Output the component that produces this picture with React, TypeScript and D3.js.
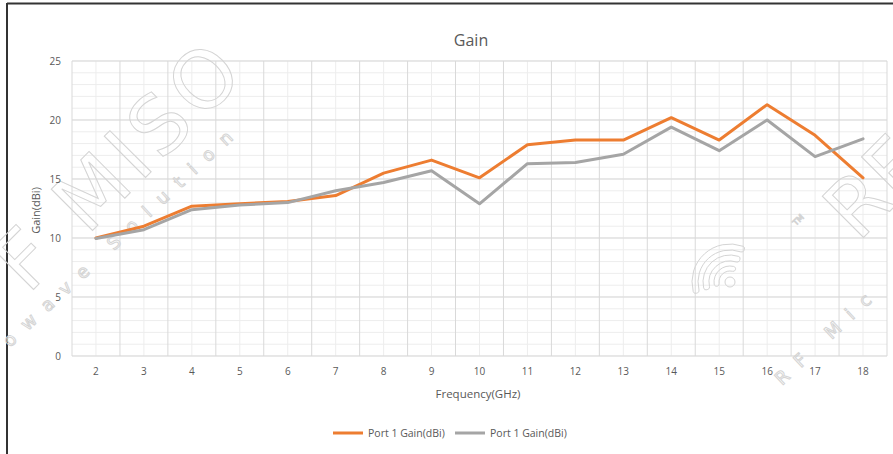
import React from "react";
import * as d3 from "d3";

const freqs = ["2", "3", "4", "5", "6", "7", "8", "9", "10", "11", "12", "13", "14", "15", "16", "17", "18"];
const port1Orange = [10.0, 11.0, 12.7, 12.9, 13.1, 13.6, 15.5, 16.6, 15.1, 17.9, 18.3, 18.3, 20.2, 18.3, 21.3, 18.7, 15.1];
const port1Gray = [9.95, 10.7, 12.4, 12.8, 13.0, 14.0, 14.7, 15.7, 12.9, 16.3, 16.4, 17.1, 19.4, 17.4, 20.0, 16.9, 18.4];
const yTicks = [0, 5, 10, 15, 20, 25];
const seriesNames = ["Port 1 Gain(dBi)", "Port 1 Gain(dBi)"];

const W = 893;
const H = 454;
const margin = { top: 61, right: 6, bottom: 98, left: 72 };
const font = "'Open Sans', 'Liberation Sans', sans-serif";
const textColor = "#595959";

// Logo-Bögen (Wasserzeichen)
const logoBands = [
  [11, 16],
  [21, 27],
  [32, 38],
];

export default function App() {
  const x = d3
    .scaleBand<string>()
    .domain(freqs)
    .range([margin.left, W - margin.right])
    .padding(0);

  const y = d3
    .scaleLinear()
    .domain([0, 25])
    .range([H - margin.bottom, margin.top]);

  const cx = (d: string) => (x(d) ?? 0) + x.bandwidth() / 2;

  const line = d3
    .line<number>()
    .x((_, i) => cx(freqs[i]))
    .y((v) => y(v));

  const minorY = d3.range(0, 26, 1);
  const series = [
    { values: port1Orange, color: "#ED7D31" },
    { values: port1Gray, color: "#A5A5A5" },
  ];

  const arcGen = d3.arc<number[]>()
    .innerRadius((d) => d[0])
    .outerRadius((d) => d[1])
    .startAngle(4.39)
    .endAngle(6.7)
    .cornerRadius(2.5);

  return (
    <svg
      width={W}
      height={H}
      style={{ position: "fixed", top: 0, left: 0, background: "#fff" }}
      fontFamily={font}
    >
      {/* Rahmen */}
      <line x1={7} x2={W} y1={3.5} y2={3.5} stroke="#333" strokeWidth={2} />
      <line x1={7} x2={7} y1={3} y2={H} stroke="#333" strokeWidth={2} />

      {/* Titel */}
      <text x={471} y={46} textAnchor="middle" fontSize={16} fill={textColor}>
        Gain
      </text>

      {/* Nebengitter */}
      <g stroke="#EDEDED" strokeWidth={1}>
        {minorY.map((t) => (
          <line key={"my" + t} x1={margin.left} x2={W - margin.right} y1={y(t)} y2={y(t)} />
        ))}
        {freqs.map((f) => (
          <line key={"mx" + f} x1={cx(f)} x2={cx(f)} y1={margin.top} y2={H - margin.bottom} />
        ))}
      </g>
      {/* Hauptgitter */}
      <g stroke="#D9D9D9" strokeWidth={1}>
        {yTicks.map((t) => (
          <line key={"y" + t} x1={margin.left} x2={W - margin.right} y1={y(t)} y2={y(t)} />
        ))}
        {freqs.map((f) => (
          <line key={"x" + f} x1={x(f) ?? 0} x2={x(f) ?? 0} y1={margin.top} y2={H - margin.bottom} />
        ))}
        <line x1={W - margin.right} x2={W - margin.right} y1={margin.top} y2={H - margin.bottom} />
      </g>

      {/* Wasserzeichen */}
      <g fill="none" stroke="#D4D4D4" strokeWidth={1} fontFamily="'DejaVu Sans', sans-serif">
        <text transform="translate(28,295) rotate(-45)" fontSize={80} letterSpacing={6}>
          F MISO
        </text>
        <text transform="translate(10,348) rotate(-43)" fontSize={18} letterSpacing={13}>
          owave Solution
        </text>
        <text transform="translate(858,243) rotate(-45)" fontSize={80}>
          RF
        </text>
        <text transform="translate(796,226) rotate(-45)" fontSize={8}>
          TM
        </text>
        <text transform="translate(782,386) rotate(-43)" fontSize={18} letterSpacing={13}>
          RF Mic
        </text>
        <g transform="translate(730,282)">
          <circle r={5} />
          {logoBands.map((b, i) => (
            <path key={"lb" + i} d={arcGen(b) ?? ""} />
          ))}
        </g>
      </g>

      {/* Y-Achse */}
      {yTicks.map((t) => (
        <text
          key={"yl" + t}
          x={margin.left - 11}
          y={y(t)}
          dy="0.35em"
          textAnchor="end"
          fontSize={10}
          fill={textColor}
        >
          {t}
        </text>
      ))}
      <text
        transform={`translate(40, ${(margin.top + H - margin.bottom) / 2 + 2}) rotate(-90)`}
        textAnchor="middle"
        fontSize={11}
        fill={textColor}
      >
        Gain(dBi)
      </text>

      {/* X-Achse */}
      {freqs.map((f) => (
        <text key={"xl" + f} x={cx(f)} y={375} textAnchor="middle" fontSize={10} fill={textColor}>
          {f}
        </text>
      ))}
      <text x={478} y={398} textAnchor="middle" fontSize={11.5} fill={textColor}>
        Frequency(GHz)
      </text>

      {/* Linien */}
      {series.map((s, i) => (
        <path
          key={"s" + i}
          d={line(s.values) ?? ""}
          fill="none"
          stroke={s.color}
          strokeWidth={3}
          strokeLinejoin="round"
          strokeLinecap="round"
        />
      ))}

      {/* Legende */}
      {series.map((s, i) => {
        const lx = 333 + i * 122;
        return (
          <g key={"lg" + i}>
            <line x1={lx} x2={lx + 30} y1={433} y2={433} stroke={s.color} strokeWidth={3} />
            <text x={lx + 35} y={433} dy="0.35em" fontSize={10.5} fill={textColor}>
              {seriesNames[i]}
            </text>
          </g>
        );
      })}
    </svg>
  );
}
